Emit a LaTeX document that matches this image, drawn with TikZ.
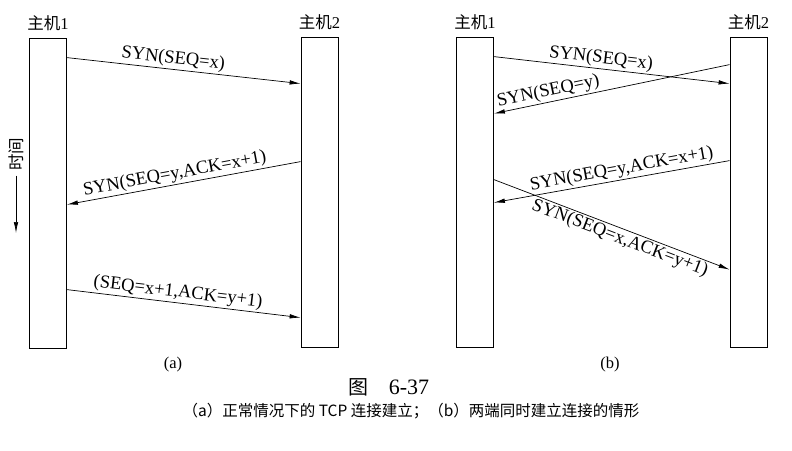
\documentclass[tikz,border=0pt]{standalone}
\usepackage{fontspec}
\setmainfont{Liberation Serif}
\newfontfamily\cjk{Noto Sans CJK SC}
\usetikzlibrary{arrows.meta,positioning}
\begin{document}
\begin{tikzpicture}[x=1pt, y=-1pt,
  host/.style = {draw, line width=0.8pt, minimum width=37pt,
    minimum height=310pt, inner sep=0pt},
  msg/.style = {line width=0.7pt, -{Latex[length=11pt,width=4.5pt]}},
  lbl/.style = {font=\fontsize{18.5}{20}\selectfont, inner sep=1.5pt},
  hname/.style = {font=\fontsize{16.5}{18}\selectfont, inner sep=1pt}]
  \useasboundingbox (0,0) rectangle (792,450);
  % (a) normal case
  \node[host] (ha1) at (48,193) {};
  \node[host] (ha2) at (319.5,192) {};
  \node[hname, above=6pt of ha1] (na1) {{\cjk 主机}1};
  \node[hname, above=6pt of ha2] (na2) {{\cjk 主机}2};
  \draw[msg] ([yshift=-20pt]ha1.north east) -- node[lbl, above, sloped, pos=0.45] {SYN(SEQ=x)}
    ([yshift=-47pt]ha2.north west);
  \draw[msg] ([yshift=-125pt]ha2.north west) -- node[lbl, above, sloped, pos=0.53] {SYN(SEQ=y,ACK=x+1)}
    ([yshift=-167pt]ha1.north east);
  \draw[msg] ([yshift=-252pt]ha1.north east) -- node[lbl, above, sloped, pos=0.47] {(SEQ=x+1,ACK=y+1)}
    ([yshift=-281pt]ha2.north west);
  \node[hname, rotate=90] (time) at (16,154) {\cjk 时间};
  \coordinate (tend) at (16,233);
  \draw[msg] ([yshift=-4pt]time.west) -- (tend);
  \node[hname] (capa) at (173,365) {(a)};
  % (b) simultaneous open
  \node[host] (hb1) at (475,192) {};
  \node[host] (hb2) at (748.5,192) {};
  \node[hname, above=6pt of hb1] (nb1) {{\cjk 主机}1};
  \node[hname, above=6pt of hb2] (nb2) {{\cjk 主机}2};
  \draw[msg] ([yshift=-20pt]hb1.north east) -- node[lbl, above, sloped, pos=0.45] {SYN(SEQ=x)}
    ([yshift=-47pt]hb2.north west);
  \draw[msg] ([yshift=-28pt]hb2.north west) -- node[lbl, above, sloped, pos=0.76] {SYN(SEQ=y)}
    ([yshift=-77pt]hb1.north east);
  \draw[msg] ([yshift=-124pt]hb2.north west) -- node[lbl, above, sloped, pos=0.45] {SYN(SEQ=y,ACK=x+1)}
    ([yshift=-166pt]hb1.north east);
  \draw[msg] ([yshift=-143pt]hb1.north east) -- node[lbl, below, sloped, pos=0.55] {SYN(SEQ=x,ACK=y+1)}
    ([yshift=-233pt]hb2.north west);
  \node[hname] (capb) at (610,365) {(b)};
  % caption
  \node[font=\fontsize{20}{22}\selectfont] (fig) at (389,387)
    {{\cjk 图}\hspace{20pt}{\fontsize{22}{24}\selectfont 6-37}};
  \node[font=\fontsize{15.5}{18}\selectfont] (sub) at (411,411)
    {\cjk （a）正常情况下的 TCP 连接建立；（b）两端同时建立连接的情形};
\end{tikzpicture}
\end{document}
